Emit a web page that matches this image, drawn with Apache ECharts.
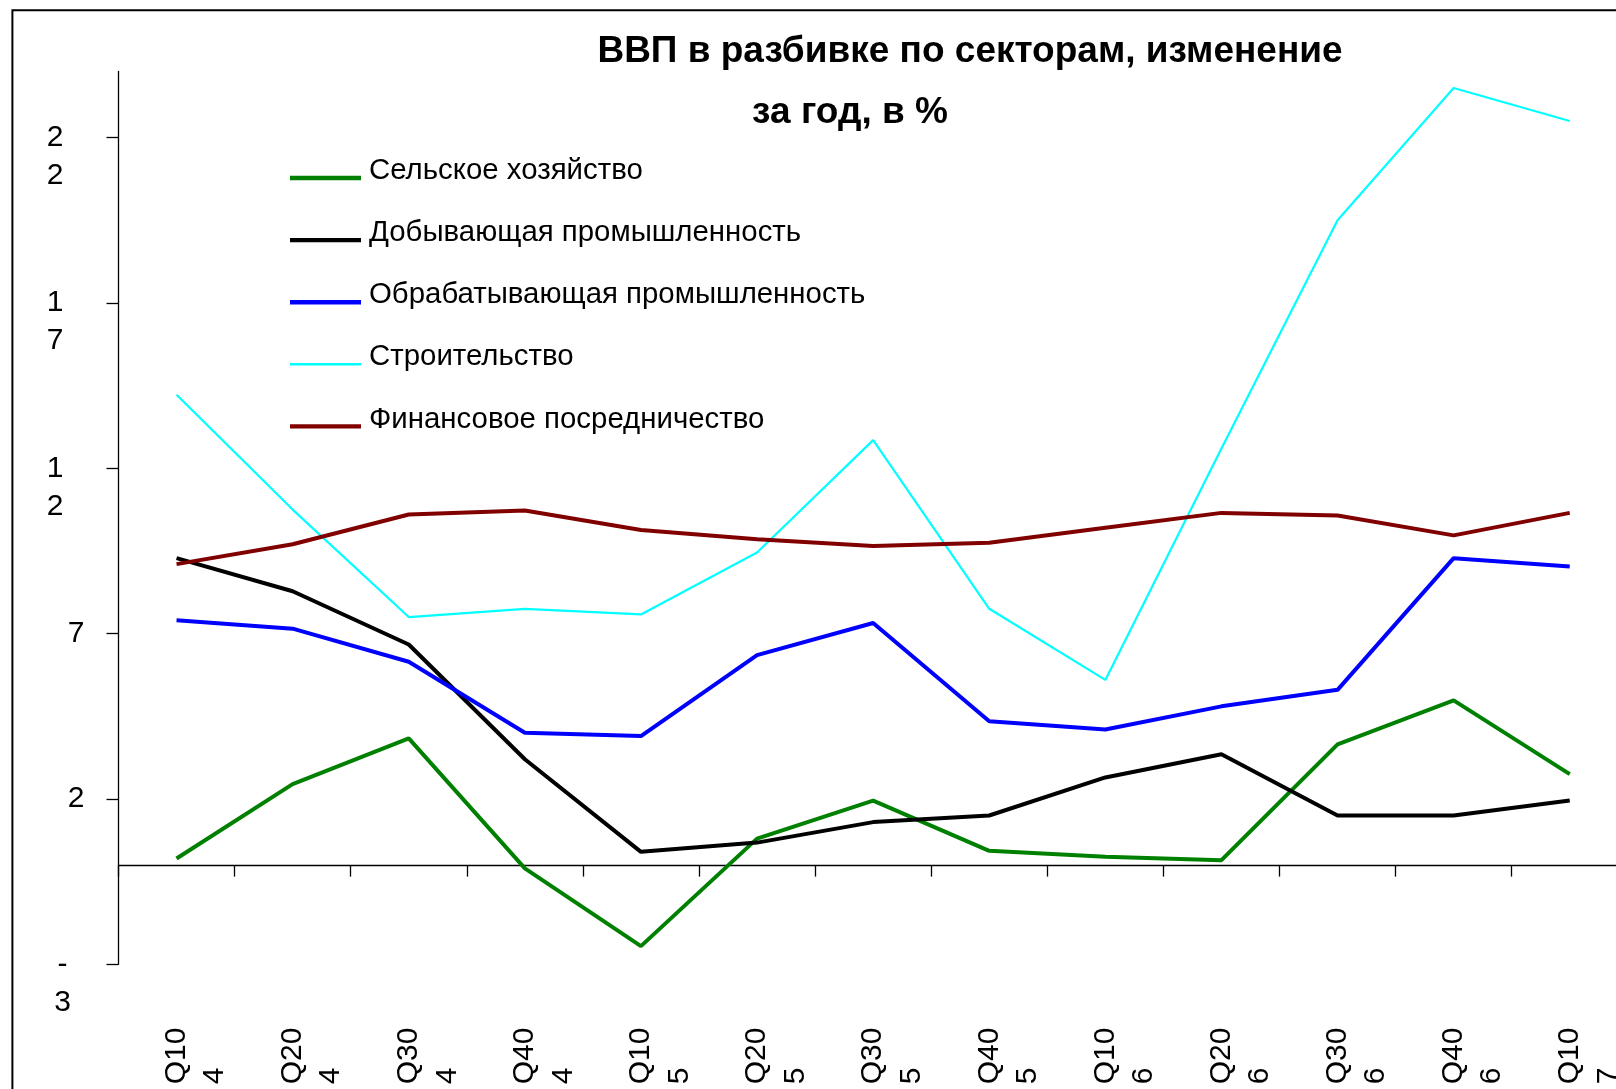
<!DOCTYPE html>
<html>
<head>
<meta charset="utf-8">
<script src="https://cdn.jsdelivr.net/npm/echarts@6/dist/echarts.min.js"></script>
<style>
html,body{margin:0;padding:0;background:#fff;}
#c{width:1616px;height:1089px;}
</style>
</head>
<body>
<div id="c"></div>
<script>
const titleLine1 = 'ВВП в разбивке по секторам, изменение';
const titleLine2 = 'за год, в %';
const categories = ['Q10 4','Q20 4','Q30 4','Q40 4','Q10 5','Q20 5','Q30 5','Q40 5','Q10 6','Q20 6','Q30 6','Q40 6','Q10 7'];
const seriesNames = ['Сельское хозяйство','Добывающая промышленность','Обрабатывающая промышленность','Строительство','Финансовое посредничество'];
const agriculture = [0.2, 2.45, 3.83, -0.1, -2.45, 0.8, 1.95, 0.43, 0.25, 0.15, 3.65, 4.98, 2.75];
const mining = [9.28, 8.28, 6.67, 3.2, 0.4, 0.68, 1.3, 1.5, 2.65, 3.35, 1.5, 1.5, 1.95];
const manufacturing = [7.4, 7.15, 6.15, 4.0, 3.9, 6.35, 7.32, 4.35, 4.1, 4.8, 5.3, 9.28, 9.03];
const construction = [14.22, 10.75, 7.5, 7.75, 7.58, 9.45, 12.85, 7.75, 5.6, 12.6, 19.5, 23.5, 22.5];
const finance = [9.1, 9.7, 10.6, 10.72, 10.13, 9.85, 9.65, 9.75, 10.2, 10.65, 10.57, 9.97, 10.65];
const yTicks = [-3, 2, 7, 12, 17, 22];

const colors = ['#008000', '#000000', '#0000ff', '#00ffff', '#800000'];
const widths = [4, 4, 4, 2.2, 4];
const dataSets = [agriculture, mining, manufacturing, construction, finance];
const FONT = '"Liberation Sans", Arial, sans-serif';

const chart = echarts.init(document.getElementById('c'), null, {renderer: 'canvas'});

const thickIcon = 'path://M0,0M71,24M0,16.8L71,16.8L71,21.2L0,21.2Z';
const thinIcon = 'path://M0,0M71,24M0,17.7L71,17.7L71,20.3L0,20.3Z';

function yAxisBase(extra) {
  return Object.assign({
    type: 'value', min: -3, max: 24, interval: 5,
    position: 'left',
    splitLine: {show: false},
    axisLine: {show: false, onZero: false},
    axisTick: {show: false}
  }, extra);
}

const option = {
  backgroundColor: '#ffffff',
  animation: false,
  title: [
    {text: titleLine1, left: 970, top: 51.5, textAlign: 'center', textVerticalAlign: 'middle', padding: 0,
     textStyle: {fontFamily: FONT, fontWeight: 'bold', fontSize: 37, color: '#000'}},
    {text: titleLine2, left: 850, top: 113, textAlign: 'center', textVerticalAlign: 'middle', padding: 0,
     textStyle: {fontFamily: FONT, fontWeight: 'bold', fontSize: 37, color: '#000'}}
  ],
  graphic: [{
    type: 'rect', silent: true, z: -10,
    shape: {x: 12.4, y: 10.3, width: 1800, height: 1300},
    style: {fill: 'none', stroke: '#000', lineWidth: 2}
  }],
  legend: {
    orient: 'vertical', left: 290, top: 156.5, padding: 0,
    itemWidth: 71, itemHeight: 24, itemGap: 33.1,
    selectedMode: false,
    itemStyle: {borderWidth: 0},
    textStyle: {fontFamily: FONT, fontSize: 29.4, color: '#000', lineHeight: 24, padding: [0, 0, 0, 3]},
    data: seriesNames.map((n, i) => ({name: n, icon: widths[i] > 3 ? thickIcon : thinIcon}))
  },
  grid: {left: 118.5, top: 71.4, width: 1509.3, bottom: 124.7, containLabel: false, outerBoundsMode: 'none'},
  xAxis: [{
    type: 'category', data: categories, boundaryGap: true,
    axisLine: {show: true, onZero: true, lineStyle: {color: '#000', width: 1.3}},
    axisTick: {show: true, length: 11.5, lineStyle: {color: '#000', width: 1.3}},
    splitLine: {show: false},
    axisLabel: {
      show: true, interval: 0, rotate: 90, margin: 120,
      align: 'left', verticalAlign: 'middle',
      fontFamily: FONT, fontSize: 30, color: '#000', lineHeight: 38.5,
      formatter: v => ' \n' + v.split(' ').join('\n')
    }
  }],
  yAxis: [
    yAxisBase({
      axisLine: {show: true, onZero: false, lineStyle: {color: '#000', width: 1.3}},
      axisTick: {show: true, length: 12, lineStyle: {color: '#000', width: 1.3}, customValues: yTicks},
      axisLabel: {
        show: true, margin: 42.5, align: 'center', verticalAlign: 'middle',
        fontFamily: FONT, fontSize: 30, color: '#000',
        customValues: yTicks.filter(v => v >= 0 && v < 10),
        formatter: v => (v >= 0 && v < 10 && yTicks.indexOf(v) >= 0) ? String(v) : ''
      }
    }),
    yAxisBase({
      axisLabel: {
        show: true, margin: 63.3, align: 'center', verticalAlign: 'middle',
        fontFamily: FONT, fontSize: 30, color: '#000', lineHeight: 38.3,
        customValues: yTicks.filter(v => v >= 10),
        formatter: v => (v >= 10 && yTicks.indexOf(v) >= 0) ? ' \n' + String(v).split('').join('\n') : ''
      }
    }),
    yAxisBase({
      axisLabel: {
        show: true, margin: 56, align: 'center', verticalAlign: 'middle',
        fontFamily: FONT, fontSize: 30, color: '#000', lineHeight: 38.3,
        customValues: yTicks.filter(v => v < 0),
        formatter: v => (v < 0 && yTicks.indexOf(v) >= 0) ? ' \n' + String(v).split('').join('\n') : ''
      }
    })
  ],
  series: seriesNames.map((n, i) => ({
    name: n, type: 'line', data: dataSets[i],
    xAxisIndex: 0, yAxisIndex: 0,
    symbol: 'none', color: colors[i],
    itemStyle: {color: colors[i]},
    lineStyle: {color: colors[i], width: widths[i]},
    emphasis: {disabled: true},
    z: 2
  }))
};
chart.setOption(option);
</script>
</body>
</html>
